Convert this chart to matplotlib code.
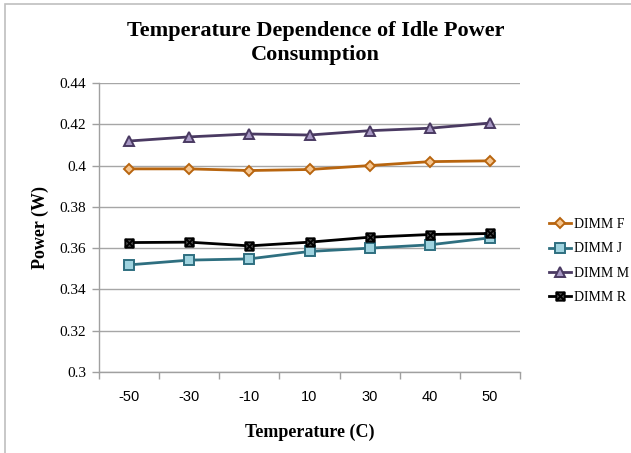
import matplotlib
matplotlib.use("Agg")
import matplotlib.pyplot as plt
from matplotlib.patches import Rectangle
from matplotlib.path import Path

temps = ["-50", "-30", "-10", "10", "30", "40", "50"]
dimm_f = [0.3984, 0.3984, 0.3976, 0.3981, 0.4000, 0.4019, 0.4023]
dimm_j = [0.3519, 0.3542, 0.3548, 0.3584, 0.3600, 0.3616, 0.3650]
dimm_m = [0.4119, 0.4139, 0.4153, 0.4148, 0.4169, 0.4181, 0.4206]
dimm_r = [0.3627, 0.3629, 0.3611, 0.3629, 0.3653, 0.3666, 0.3671]
y_ticks = [0.3, 0.32, 0.34, 0.36, 0.38, 0.4, 0.42, 0.44]
y_ticklabels = ["0.3", "0.32", "0.34", "0.36", "0.38", "0.4", "0.42", "0.44"]

serif = ["Liberation Serif", "DejaVu Serif"]
sans = ["Liberation Sans", "DejaVu Sans"]

# square with an X inside
box_x = Path(
    [(-1, -1), (1, -1), (1, 1), (-1, 1), (-1, -1),
     (-1, -1), (1, 1), (-1, 1), (1, -1)],
    [Path.MOVETO, Path.LINETO, Path.LINETO, Path.LINETO, Path.CLOSEPOLY,
     Path.MOVETO, Path.LINETO, Path.MOVETO, Path.LINETO],
)

fig = plt.figure(figsize=(6.31, 4.53), dpi=100)
fig.patches.append(Rectangle((5 / 631, -0.1), 1.2, 1 - 4 / 453 + 0.1,
                             transform=fig.transFigure, fill=False,
                             edgecolor="#bfbfbf", linewidth=1.2))

ax = fig.add_axes([99 / 631, 1 - 372 / 453, 421 / 631, 289 / 453])
x = list(range(len(temps)))

series = [
    ("DIMM F", dimm_f, "D", "#b8650f", "#f6c690", "#b8650f", 5),
    ("DIMM J", dimm_j, "s", "#2e6f80", "#9fd3df", "#2e6f80", 6.5),
    ("DIMM M", dimm_m, "^", "#4a3a62", "#a798c4", "#4a3a62", 7),
    ("DIMM R", dimm_r, box_x, "#000000", "#555555", "#000000", 6),
]
for name, vals, mk, lc, fc, ec, ms in series:
    ax.plot(x, vals, color=lc, linewidth=2, marker=mk, markersize=ms,
            markerfacecolor=fc, markeredgecolor=ec,
            markeredgewidth=1.4, label=name, zorder=3)

ax.set_xlim(-0.5, len(temps) - 0.5)
ax.set_ylim(0.3, 0.44)
ax.set_yticks(y_ticks)
ax.set_yticklabels(y_ticklabels, fontfamily=serif, fontsize=11)
ax.set_xticks(x)
ax.set_xticklabels(temps, fontfamily=sans, fontsize=10.5)
ax.set_xticks([i - 0.5 for i in range(len(temps) + 1)], minor=True)
ax.tick_params(axis="x", which="major", length=0, pad=13)
ax.tick_params(axis="x", which="minor", length=5, color="#a0a0a0", width=1)
ax.tick_params(axis="y", length=5, color="#a0a0a0", width=1, pad=4)
ax.grid(axis="y", color="#a6a6a6", linewidth=1)
ax.set_axisbelow(True)
for s in ["top", "right"]:
    ax.spines[s].set_visible(False)
for s in ["left", "bottom"]:
    ax.spines[s].set_color("#a0a0a0")
    ax.spines[s].set_linewidth(1)

ax.set_xlabel("Temperature (C)", fontfamily=serif, fontsize=13,
              fontweight="bold", labelpad=14)
ax.set_ylabel("Power (W)", fontfamily=serif, fontsize=13,
              fontweight="bold", labelpad=8)

fig.text(0.5, 1 - 43 / 453, "Temperature Dependence of Idle Power\nConsumption",
         ha="center", va="center", fontfamily=serif, fontsize=16,
         fontweight="bold", linespacing=1.3)

leg = ax.legend(loc="center left", bbox_to_anchor=(543 / 631, 1 - 261 / 453),
                bbox_transform=fig.transFigure, frameon=False,
                prop={"family": serif, "size": 10}, handlelength=1.6,
                handletextpad=0.2, labelspacing=0.8, borderaxespad=0)

fig.savefig("out.png", dpi=100)
